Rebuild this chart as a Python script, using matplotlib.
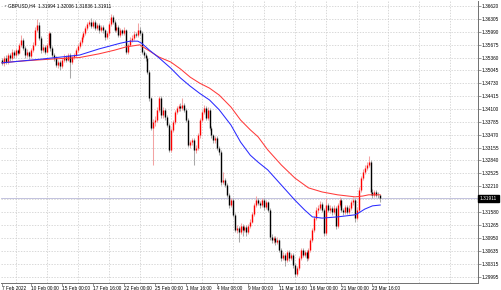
import numpy as np
import matplotlib
matplotlib.use("Agg")
import matplotlib.pyplot as plt
import matplotlib.transforms as mtransforms

plt.rcParams['font.family'] = ['Liberation Sans', 'DejaVu Sans']

# GBPUSD H4 candles
close = [1.3523, 1.3535, 1.3525, 1.3542, 1.3535, 1.3550, 1.3542, 1.3554, 1.3547, 1.3567,
         1.3579, 1.3559, 1.3542, 1.3550, 1.3540, 1.3554, 1.3567, 1.3603, 1.3616, 1.3584,
         1.3554, 1.3562, 1.3550, 1.3567, 1.3596, 1.3559, 1.3542, 1.3535, 1.3518, 1.3525,
         1.3515, 1.3530, 1.3537, 1.3530, 1.3542, 1.3525, 1.3537, 1.3542, 1.3554, 1.3564,
         1.3574, 1.3586, 1.3596, 1.3608, 1.3618, 1.3623, 1.3613, 1.3623, 1.3608, 1.3616,
         1.3603, 1.3611, 1.3603, 1.3586, 1.3596, 1.3618, 1.3635, 1.3623, 1.3603, 1.3611,
         1.3591, 1.3603, 1.3596, 1.3603, 1.3550, 1.3567, 1.3579, 1.3584, 1.3594, 1.3591,
         1.3603, 1.3596, 1.3550, 1.3542, 1.3535, 1.3501, 1.3437, 1.3364, 1.3378, 1.3383,
         1.3408, 1.3437, 1.3395, 1.3408, 1.3390, 1.3371, 1.3310, 1.3359, 1.3378, 1.3403,
         1.3412, 1.3417, 1.3412, 1.3420, 1.3408, 1.3383, 1.3322, 1.3329, 1.3334, 1.3310,
         1.3315, 1.3346, 1.3383, 1.3403, 1.3412, 1.3388, 1.3408, 1.3364, 1.3346, 1.3334,
         1.3339, 1.3315, 1.3305, 1.3231, 1.3236, 1.3224, 1.3200, 1.3175, 1.3187, 1.3151,
         1.3114, 1.3119, 1.3109, 1.3124, 1.3114, 1.3121, 1.3109, 1.3124, 1.3134, 1.3153,
         1.3175, 1.3187, 1.3180, 1.3175, 1.3187, 1.3170, 1.3182, 1.3163, 1.3097, 1.3089,
         1.3094, 1.3085, 1.3089, 1.3065, 1.3045, 1.3053, 1.3040, 1.3060, 1.3045, 1.3053,
         1.3028, 1.3006, 1.3021, 1.3045, 1.3065, 1.3053, 1.3060, 1.3045, 1.3065, 1.3089,
         1.3114, 1.3143, 1.3163, 1.3168, 1.3178, 1.3163, 1.3107, 1.3175, 1.3163, 1.3168,
         1.3158, 1.3168, 1.3124, 1.3175, 1.3187, 1.3163, 1.3158, 1.3170, 1.3158, 1.3168,
         1.3182, 1.3187, 1.3143, 1.3163, 1.3212, 1.3241, 1.3256, 1.3266, 1.3273, 1.3280,
         1.3207, 1.3200, 1.3207, 1.3200, 1.31994, 1.31911]

high = [1.3536, 1.3540, 1.3541, 1.3548, 1.3546, 1.3556, 1.3555, 1.3560, 1.3558, 1.3572,
        1.3590, 1.3584, 1.3563, 1.3556, 1.3553, 1.3559, 1.3574, 1.3610, 1.3630, 1.3622,
        1.3588, 1.3568, 1.3566, 1.3572, 1.3602, 1.3599, 1.3563, 1.3548, 1.3539, 1.3531,
        1.3529, 1.3535, 1.3544, 1.3541, 1.3548, 1.3546, 1.3542, 1.3548, 1.3559, 1.3570,
        1.3580, 1.3592, 1.3602, 1.3614, 1.3624, 1.3628, 1.3632, 1.3628, 1.3627, 1.3621,
        1.3620, 1.3616, 1.3615, 1.3607, 1.3601, 1.3623, 1.3642, 1.3639, 1.3627, 1.3617,
        1.3615, 1.3608, 1.3607, 1.3610, 1.3607, 1.3572, 1.3585, 1.3590, 1.3600, 1.3599,
        1.3620, 1.3610, 1.3600, 1.3555, 1.3547, 1.3539, 1.3505, 1.3440, 1.3385, 1.3392,
        1.3414, 1.3443, 1.3441, 1.3415, 1.3413, 1.3395, 1.3375, 1.3364, 1.3384, 1.3408,
        1.3418, 1.3423, 1.3425, 1.3437, 1.3425, 1.3412, 1.3387, 1.3335, 1.3340, 1.3338,
        1.3322, 1.3351, 1.3388, 1.3408, 1.3420, 1.3417, 1.3414, 1.3412, 1.3369, 1.3350,
        1.3345, 1.3344, 1.3320, 1.3309, 1.3255, 1.3241, 1.3228, 1.3205, 1.3193, 1.3191,
        1.3155, 1.3126, 1.3124, 1.3130, 1.3129, 1.3127, 1.3125, 1.3129, 1.3140, 1.3158,
        1.3180, 1.3197, 1.3192, 1.3186, 1.3192, 1.3191, 1.3188, 1.3186, 1.3167, 1.3103,
        1.3100, 1.3099, 1.3096, 1.3093, 1.3069, 1.3059, 1.3058, 1.3066, 1.3064, 1.3058,
        1.3057, 1.3032, 1.3027, 1.3050, 1.3071, 1.3070, 1.3066, 1.3064, 1.3070, 1.3094,
        1.3119, 1.3148, 1.3169, 1.3175, 1.3185, 1.3183, 1.3168, 1.3192, 1.3180, 1.3175,
        1.3173, 1.3174, 1.3172, 1.3180, 1.3195, 1.3191, 1.3168, 1.3176, 1.3175, 1.3174,
        1.3188, 1.3195, 1.3191, 1.3169, 1.3218, 1.3247, 1.3262, 1.3272, 1.3280, 1.3295,
        1.3284, 1.3214, 1.3213, 1.3212, 1.3208, 1.32006]

low = [1.3518, 1.3515, 1.3520, 1.3521, 1.3528, 1.3530, 1.3536, 1.3538, 1.3541, 1.3544,
       1.3562, 1.3554, 1.3536, 1.3537, 1.3532, 1.3536, 1.3550, 1.3563, 1.3598, 1.3578,
       1.3548, 1.3549, 1.3544, 1.3546, 1.3562, 1.3553, 1.3537, 1.3528, 1.3512, 1.3510,
       1.3505, 1.3510, 1.3526, 1.3524, 1.3527, 1.3486, 1.3520, 1.3532, 1.3538, 1.3550,
       1.3560, 1.3570, 1.3582, 1.3592, 1.3604, 1.3613, 1.3608, 1.3609, 1.3603, 1.3603,
       1.3597, 1.3598, 1.3597, 1.3580, 1.3581, 1.3592, 1.3614, 1.3618, 1.3598, 1.3599,
       1.3585, 1.3587, 1.3590, 1.3592, 1.3544, 1.3545, 1.3563, 1.3575, 1.3580, 1.3586,
       1.3587, 1.3590, 1.3545, 1.3536, 1.3528, 1.3495, 1.3430, 1.3358, 1.3273, 1.3368,
       1.3378, 1.3402, 1.3388, 1.3389, 1.3383, 1.3365, 1.3304, 1.3305, 1.3353, 1.3373,
       1.3398, 1.3406, 1.3406, 1.3407, 1.3402, 1.3377, 1.3316, 1.3314, 1.3322, 1.3273,
       1.3303, 1.3310, 1.3340, 1.3378, 1.3398, 1.3382, 1.3383, 1.3358, 1.3340, 1.3327,
       1.3328, 1.3309, 1.3298, 1.3225, 1.3226, 1.3218, 1.3194, 1.3168, 1.3170, 1.3145,
       1.3108, 1.3106, 1.3085, 1.3104, 1.3100, 1.3108, 1.3098, 1.3104, 1.3119, 1.3130,
       1.3148, 1.3170, 1.3174, 1.3168, 1.3170, 1.3164, 1.3166, 1.3157, 1.3090, 1.3082,
       1.3083, 1.3078, 1.3080, 1.3060, 1.3038, 1.3040, 1.3026, 1.3035, 1.3039, 1.3040,
       1.3022, 1.2999, 1.3001, 1.3016, 1.3040, 1.3047, 1.3048, 1.3039, 1.3041, 1.3060,
       1.3084, 1.3109, 1.3138, 1.3156, 1.3162, 1.3157, 1.3100, 1.3102, 1.3157, 1.3156,
       1.3150, 1.3152, 1.3117, 1.3119, 1.3170, 1.3157, 1.3150, 1.3153, 1.3152, 1.3153,
       1.3163, 1.3176, 1.3134, 1.3138, 1.3158, 1.3207, 1.3236, 1.3250, 1.3261, 1.3268,
       1.3200, 1.3193, 1.3194, 1.3194, 1.3192, 1.31836]

first_open = 1.3530
opn = [first_open] + close[:-1]

# moving averages, sampled along the lines
ma_blue_bar = [0, 9, 20, 30, 40, 50, 61, 66, 70, 72, 76, 81, 87, 92, 97, 102, 107, 112,
               118, 123, 128, 132, 137, 144, 151, 156, 160, 165, 173, 182, 184, 187, 191, 195]
ma_blue = [1.3523, 1.3527, 1.3532, 1.3537, 1.3542, 1.3557, 1.3571, 1.3576, 1.3576, 1.3571,
           1.3554, 1.3535, 1.3510, 1.3486, 1.3466, 1.3448, 1.3432, 1.3408, 1.3371, 1.3329,
           1.3297, 1.3280, 1.3261, 1.3224, 1.3187, 1.3163, 1.3146, 1.3143, 1.3146, 1.3151,
           1.3156, 1.3165, 1.3173, 1.3175]
ma_red_bar = [0, 9, 25, 40, 50, 58, 64, 71, 76, 81, 87, 92, 97, 102, 107, 112, 118, 123,
              128, 132, 137, 144, 151, 158, 165, 173, 182, 186, 189, 195]
ma_red = [1.3523, 1.3527, 1.3532, 1.3536, 1.3545, 1.3554, 1.3562, 1.3567, 1.3552, 1.3537,
          1.3525, 1.3508, 1.3488, 1.3473, 1.3461, 1.3444, 1.3415, 1.3383, 1.3359, 1.3342,
          1.3310, 1.3273, 1.3241, 1.3217, 1.3207, 1.3200, 1.3195, 1.3197, 1.3200, 1.3200]

price_ticks = [1.36620, 1.36305, 1.35990, 1.35675, 1.35360, 1.35045, 1.34730, 1.34415,
               1.34100, 1.33785, 1.33470, 1.33155, 1.32840, 1.32525, 1.32210, 1.31580,
               1.31265, 1.30950, 1.30635, 1.30315, 1.29995]
price_labels = ["%.5f" % p for p in price_ticks]
hidden_grid = 1.31895
last_price = 1.31911

date_bars = [0, 15, 31, 47, 63, 79, 95, 111, 127, 143, 159, 175, 191]
date_labels = ["7 Feb 2022", "10 Feb 00:00", "15 Feb 00:00", "17 Feb 16:00", "22 Feb 00:00",
               "25 Feb 00:00", "1 Mar 16:00", "4 Mar 08:00", "9 Mar 00:00", "11 Mar 16:00",
               "16 Mar 00:00", "21 Mar 00:00", "23 Mar 16:00"]

W, H = 501, 290
fig = plt.figure(figsize=(W / 100, H / 100), dpi=100)
ax = fig.add_axes([1 / W, 7 / H, 477 / W, 282 / H])
ax.set_xlim(-0.515, 245.4)
ax.set_ylim(1.29842, 1.36743)

fs = 3.4

# grid
grid_kw = dict(color="#c9c9c9", lw=0.5, linestyle=(0, (2, 2)), zorder=0)
for p in price_ticks + [hidden_grid]:
    ax.axhline(p, **grid_kw)
for k in range(15):
    ax.axvline(7.2 + 16 * k, **grid_kw)

ax.axhline(last_price, color="#b8b8d8", lw=0.6, zorder=1)

x = np.arange(len(close))
o = np.array(opn)
c = np.array(close)
hi = np.array(high)
lo = np.array(low)
up = c > o

ax.vlines(x[up], lo[up], hi[up], color="#f3a3a3", lw=0.75, zorder=2)
ax.vlines(x[~up], lo[~up], hi[~up], color="#a8a8a8", lw=0.75, zorder=2)
bot = np.minimum(o, c)
top = np.maximum(o, c)
top = np.where(top - bot < 0.00012, bot + 0.00012, top)
ax.vlines(x[up], bot[up], top[up], color="#ff0000", lw=1.0, zorder=3)
ax.vlines(x[~up], bot[~up], top[~up], color="#000000", lw=1.0, zorder=3)

ax.plot(ma_red_bar, ma_red, color="#ff3a3a", lw=0.75, zorder=4)
ax.plot(ma_blue_bar, ma_blue, color="#2a2aff", lw=0.75, zorder=4)

# axes
for s in ["top", "left"]:
    ax.spines[s].set_visible(False)
for s in ["right", "bottom"]:
    ax.spines[s].set_color("#707070")
    ax.spines[s].set_linewidth(0.7)

ax.yaxis.tick_right()
ax.set_yticks(price_ticks, price_labels)
ax.set_xticks(date_bars, date_labels)
ax.tick_params(axis="y", labelsize=fs, length=2, width=0.5, color="#707070", pad=0.8)
ax.tick_params(axis="x", labelsize=fs, length=2, width=0.5, color="#707070", pad=0.3)
for lab in ax.get_xticklabels():
    lab.set_ha("left")

trans = mtransforms.blended_transform_factory(ax.transAxes, ax.transData)
ax.text(1.004, last_price, "1.31911", transform=trans, fontsize=fs, color="white",
        va="center", ha="left",
        bbox=dict(boxstyle="square,pad=0.3", fc="black", ec="black"))

fig.text(3 / W, 1 - 6 / H, "\u25bc", fontsize=2.3, color="#888888", va="center", ha="left")
fig.text(8 / W, 1 - 6 / H, "GBPUSD,H4  1.31994 1.32006 1.31836 1.31911", fontsize=fs,
         color="black", va="center", ha="left")

fig.savefig("out.png", dpi=100)
